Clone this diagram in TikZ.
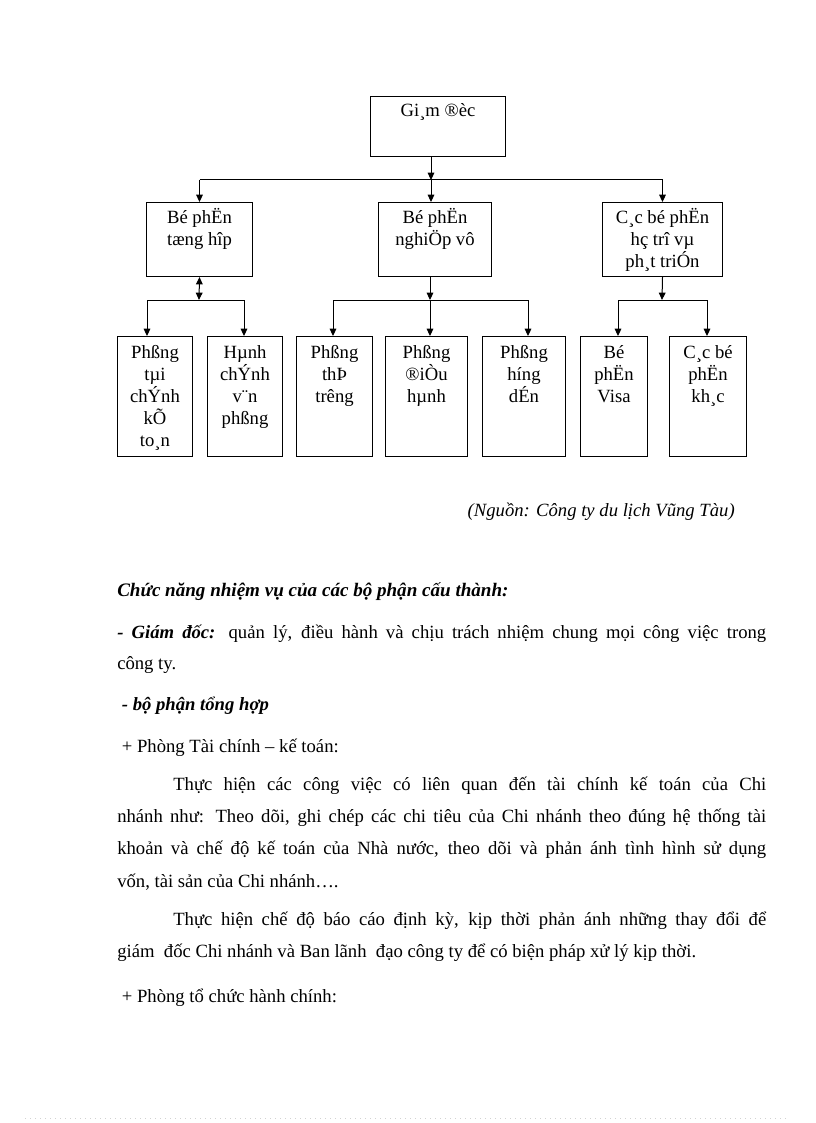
\documentclass[tikz,border=0pt]{standalone}
\usepackage{fontspec}
\setmainfont{Liberation Serif}
\usetikzlibrary{arrows.meta}

\newdimen\pxu \pxu=0.75pt
% box text: width, height, first baseline (px), lines
\newcommand{\unittext}[4]{\parbox[t][#2\pxu][t]{#1\pxu}{\centering\rule{0pt}{#3\pxu}#4}}

\tikzset{
  unit/.style={draw, line width=0.75pt, inner sep=0pt, anchor=north west,
    font=\fontsize{14pt}{16.5pt}\selectfont},
  tip/.style={Triangle[width=5pt,length=5.5pt]},
  link/.style={-{Triangle[width=5pt,length=5.5pt]}, line width=0.75pt},
  bus/.style={line width=0.75pt},
  para/.style={anchor=base west, inner sep=0pt, font=\fontsize{14pt}{24pt}\selectfont},
}

\begin{document}
\begin{tikzpicture}[x=0.75pt, y=-0.75pt]
    \useasboundingbox (0,0) rectangle (816,1123);

    % Chart boxes
    \node[unit] (gd) at (370,96) {\unittext{135}{60}{20}{Gi¸m ®èc}};

    \node[unit] (th) at (146,202) {\unittext{106}{74}{21}{Bé phËn\\tæng hîp}};
    \node[unit] (nv) at (378,202) {\unittext{113}{74}{21}{Bé phËn\\nghiÖp vô}};
    \node[unit] (ht) at (602,202) {\unittext{120}{74}{21}{C¸c bé phËn\\hç trî vµ\\ph¸t triÓn}};

    \node[unit] (tckt) at (117,336) {\unittext{75}{120}{22}{Phßng\\tµi\\chÝnh\\kÕ\\to¸n}};
    \node[unit] (hcvp) at (207,336) {\unittext{75}{120}{22}{Hµnh\\chÝnh\\v¨n\\phßng}};
    \node[unit] (ttr) at (296,336) {\unittext{76}{120}{22}{Phßng\\thÞ\\trêng\hspace{6pt}}};
    \node[unit] (dh) at (385,336) {\unittext{82}{120}{22}{Phßng\\®iÒu\\hµnh}};
    \node[unit] (hd) at (482,336) {\unittext{83}{120}{22}{Phßng\\híng\hspace{5pt}\\dÉn}};
    \node[unit] (visa) at (580,336) {\unittext{67}{120}{22}{Bé\\phËn\\Visa}};
    \node[unit] (khac) at (669,336) {\unittext{77}{120}{22}{C¸c bé\\phËn\\kh¸c}};

    % Junctions
    \coordinate (j0) at (431,180);
    \coordinate (j1) at (199,300);
    \coordinate (j2) at (430,300);
    \coordinate (j3) at (662,300);
    \coordinate (ja) at (147,300);
    \coordinate (jb) at (244,300);
    \coordinate (jc) at (333,300);
    \coordinate (jd) at (430,300);
    \coordinate (je) at (528,300);
    \coordinate (jf) at (618,300);
    \coordinate (jg) at (707,300);

    % Connectors, first level
    \draw[link] (j0 |- gd.south) -- (j0);
    \draw[bus] (th.north |- j0) -- (ht.north |- j0);
    \draw[link] (th.north |- j0) -- (th.north);
    \draw[link] (j0) -- (j0 |- nv.north);
    \draw[link] (ht.north |- j0) -- (ht.north);

    % Connectors, second level
    \draw[{Triangle[width=5pt,length=5.5pt]}-{Triangle[width=5pt,length=5.5pt]}, line width=0.75pt] (th.south) -- (j1);
    \draw[bus] (ja) -- (jb);
    \draw[link] (ja) -- (ja |- tckt.north);
    \draw[link] (jb) -- (jb |- hcvp.north);

    \draw[link] (j2 |- nv.south) -- (j2);
    \draw[bus] (jc) -- (je);
    \draw[link] (jc) -- (jc |- ttr.north);
    \draw[link] (jd) -- (jd |- dh.north);
    \draw[link] (je) -- (je |- hd.north);

    \draw[link] (ht.south) -- (j3);
    \draw[bus] (jf) -- (jg);
    \draw[link] (jf) -- (jf |- visa.north);
    \draw[link] (jg) -- (jg |- khac.north);

    % Source
    \node[para, anchor=base east] (src) at (735,516) {\itshape (Nguồn: Công ty du lịch Vũng Tàu)};

    % Text below
    \node[para] (hd1) at (117,596) {\fontsize{14.3pt}{24pt}\selectfont\bfseries\itshape Chức năng nhiệm vụ của các bộ phận cấu thành:};
    \node[para] (l1) at (117,638) {\makebox[486.75pt][s]{\textbf{\textit{- Giám đốc:}} quản lý, điều hành và chịu trách nhiệm chung mọi công việc trong}};
    \node[para] (l2) at (117,669) {công ty.};
    \node[para] (hd2) at (117,710) {\bfseries\itshape\ - bộ phận tổng hợp};
    \node[para] (l3) at (117,752) {\ + Phòng Tài chính – kế toán:};
    \node[para] (l4) at (173,790) {\makebox[444.75pt][s]{Thực hiện các công việc có liên quan đến tài chính kế toán của Chi}};
    \node[para] (l5) at (117,822) {\makebox[486.75pt][s]{nhánh như: Theo dõi, ghi chép các chi tiêu của Chi nhánh theo đúng hệ thống tài}};
    \node[para] (l6) at (117,854) {\makebox[486.75pt][s]{khoản và chế độ kế toán của Nhà nước, theo dõi và phản ánh tình hình sử dụng}};
    \node[para] (l7) at (117,887) {vốn, tài sản của Chi nhánh….};
    \node[para] (l8) at (173,925) {\makebox[444.75pt][s]{Thực hiện chế độ báo cáo định kỳ, kịp thời phản ánh những thay đổi để}};
    \node[para] (l9) at (117,957) {giám\ \ đốc Chi nhánh và Ban lãnh\ \ đạo công ty để có biện pháp xử lý kịp thời.};
    \node[para] (l10) at (117,1002) {\ + Phòng tổ chức hành chính:};

    % Page edge
    \draw[gray!35, line width=0.5pt, dash pattern=on 0.75pt off 3pt] (25,1118) -- (790,1118);
\end{tikzpicture}
\end{document}
